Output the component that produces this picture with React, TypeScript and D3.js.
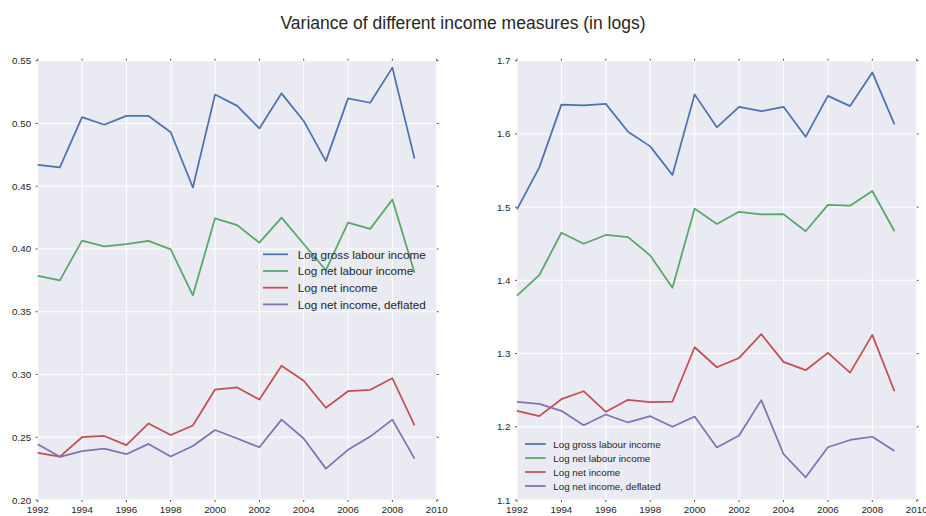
import React from "react";
import * as d3 from "d3";

const years = [1992, 1993, 1994, 1995, 1996, 1997, 1998, 1999, 2000, 2001, 2002, 2003, 2004, 2005, 2006, 2007, 2008, 2009];

const seriesNames = ["Log gross labour income", "Log net labour income", "Log net income", "Log net income, deflated"];
const colors = ["#4C72B0", "#55A868", "#C44E52", "#8172B2"];

// Left panel
const leftGross = [0.467, 0.465, 0.505, 0.499, 0.506, 0.506, 0.493, 0.449, 0.523, 0.514, 0.496, 0.524, 0.502, 0.470, 0.520, 0.5165, 0.5445, 0.472];
const leftNetLabour = [0.3785, 0.375, 0.4067, 0.402, 0.4038, 0.4065, 0.3997, 0.3631, 0.4244, 0.419, 0.405, 0.425, 0.404, 0.383, 0.421, 0.416, 0.4394, 0.381];
const leftNet = [0.2375, 0.2346, 0.250, 0.251, 0.2437, 0.261, 0.2518, 0.2594, 0.288, 0.2897, 0.280, 0.307, 0.295, 0.2735, 0.2867, 0.2878, 0.297, 0.2595];
const leftDeflated = [0.2444, 0.2344, 0.2389, 0.241, 0.2365, 0.2447, 0.2346, 0.243, 0.2558, 0.249, 0.242, 0.264, 0.249, 0.225, 0.240, 0.2505, 0.264, 0.233];

// Right panel
const rightGross = [1.497, 1.554, 1.640, 1.639, 1.641, 1.603, 1.583, 1.544, 1.654, 1.609, 1.637, 1.631, 1.637, 1.596, 1.652, 1.638, 1.684, 1.613];
const rightNetLabour = [1.379, 1.407, 1.465, 1.450, 1.462, 1.459, 1.434, 1.390, 1.498, 1.477, 1.4936, 1.490, 1.4905, 1.467, 1.503, 1.502, 1.522, 1.467];
const rightNet = [1.2218, 1.2145, 1.2377, 1.2486, 1.2205, 1.2368, 1.2336, 1.2345, 1.3086, 1.2813, 1.294, 1.3265, 1.2886, 1.2773, 1.301, 1.274, 1.3255, 1.2486];
const rightDeflated = [1.234, 1.2314, 1.2218, 1.2022, 1.2168, 1.2059, 1.2145, 1.200, 1.214, 1.1718, 1.188, 1.2364, 1.1628, 1.131, 1.172, 1.182, 1.1864, 1.167];

const xTicks = [1992, 1994, 1996, 1998, 2000, 2002, 2004, 2006, 2008, 2010];
const leftYTicks = [0.2, 0.25, 0.3, 0.35, 0.4, 0.45, 0.5, 0.55];
const rightYTicks = [1.1, 1.2, 1.3, 1.4, 1.5, 1.6, 1.7];

const title = "Variance of different income measures (in logs)";
const FONT = "'Liberation Sans', Arial, Helvetica, sans-serif";

type PanelProps = {
  x0: number;
  x1: number;
  y0: number;
  y1: number;
  yDomain: [number, number];
  yTicks: number[];
  yFmt: (v: number) => string;
  series: number[][];
  legend: { lx0: number; lx1: number; tx: number; y: number; dy: number; fs: number };
};

function Panel({ x0, x1, y0, y1, yDomain, yTicks, yFmt, series, legend }: PanelProps) {
  const x = d3.scaleLinear().domain([1992, 2010]).range([x0, x1]);
  const y = d3.scaleLinear().domain(yDomain).range([y1, y0]);
  const line = d3
    .line<number>()
    .x((_, i) => x(years[i]))
    .y((d) => y(d));
  const tickColor = "#555";
  return (
    <g>
      <rect x={x0} y={y0} width={x1 - x0} height={y1 - y0} fill="#EAEAF2" />
      {xTicks.map((t) => (
        <line key={"gx" + t} x1={x(t)} x2={x(t)} y1={y0} y2={y1} stroke="#fff" strokeWidth={1} />
      ))}
      {yTicks.map((t) => (
        <line key={"gy" + t} x1={x0} x2={x1} y1={y(t)} y2={y(t)} stroke="#fff" strokeWidth={1} />
      ))}
      {/* tick marks */}
      {xTicks.map((t) => (
        <g key={"tx" + t}>
          <line x1={x(t)} x2={x(t)} y1={y0} y2={y0 - 2} stroke={tickColor} strokeWidth={1} />
          <line x1={x(t)} x2={x(t)} y1={y1} y2={y1 + 2} stroke={tickColor} strokeWidth={1} />
        </g>
      ))}
      {yTicks.map((t) => (
        <g key={"ty" + t}>
          <line x1={x0} x2={x0 - 2} y1={y(t)} y2={y(t)} stroke={tickColor} strokeWidth={1} />
          <line x1={x1} x2={x1 + 2} y1={y(t)} y2={y(t)} stroke={tickColor} strokeWidth={1} />
        </g>
      ))}
      {series.map((s, i) => (
        <path key={"s" + i} d={line(s) || ""} fill="none" stroke={colors[i]} strokeWidth={1.75} strokeLinejoin="round" />
      ))}
      {xTicks.map((t) => (
        <text key={"lx" + t} x={x(t)} y={513} textAnchor="middle" fontSize={9.8} fill="#262626" fontFamily={FONT}>
          {t}
        </text>
      ))}
      {yTicks.map((t) => (
        <text key={"ly" + t} x={x0 - 6.5} y={y(t)} dy="0.36em" textAnchor="end" fontSize={9.8} fill="#262626" fontFamily={FONT}>
          {yFmt(t)}
        </text>
      ))}
      {seriesNames.map((n, i) => (
        <g key={"lg" + i}>
          <line
            x1={legend.lx0}
            x2={legend.lx1}
            y1={legend.y + i * legend.dy}
            y2={legend.y + i * legend.dy}
            stroke={colors[i]}
            strokeWidth={1.75}
          />
          <text x={legend.tx} y={legend.y + i * legend.dy} dy="0.36em" fontSize={legend.fs} fill="#262626" fontFamily={FONT}>
            {n}
          </text>
        </g>
      ))}
    </g>
  );
}

export default function App() {
  return (
    <svg width={926} height={516} style={{ display: "block", position: "absolute", left: 0, top: 0 }}>
      <rect width={926} height={516} fill="#fff" />
      <text x={463} y={29} textAnchor="middle" fontSize={17.5} fill="#262626" fontFamily={FONT}>
        {title}
      </text>
      <Panel
        x0={37.7}
        x1={436.7}
        y0={60.7}
        y1={500}
        yDomain={[0.2, 0.55]}
        yTicks={leftYTicks}
        yFmt={d3.format(".2f")}
        series={[leftGross, leftNetLabour, leftNet, leftDeflated]}
        legend={{ lx0: 263, lx1: 288, tx: 297.7, y: 254.3, dy: 16.7, fs: 11.7 }}
      />
      <Panel
        x0={517}
        x1={916.7}
        y0={60.7}
        y1={500}
        yDomain={[1.1, 1.7]}
        yTicks={rightYTicks}
        yFmt={d3.format(".1f")}
        series={[rightGross, rightNetLabour, rightNet, rightDeflated]}
        legend={{ lx0: 525, lx1: 545.7, tx: 553.3, y: 444, dy: 14, fs: 9.8 }}
      />
    </svg>
  );
}
